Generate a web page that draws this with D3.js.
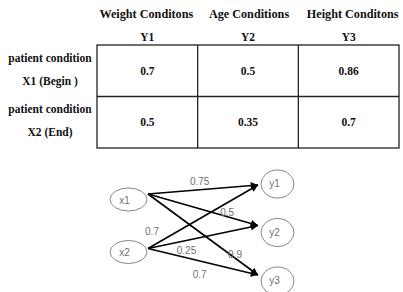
<!DOCTYPE html>
<html><head><meta charset="utf-8">
<script src="https://cdn.jsdelivr.net/npm/d3@7"></script>
<style>body{margin:0;background:#fff}svg{display:block}
.tbl text{font-family:"Liberation Serif","Times New Roman","DejaVu Serif",serif;font-weight:bold;font-size:11.5px;fill:#111}
.tbl text.ct{font-size:12.2px}
.net text{font-family:"Liberation Sans",Arial,sans-serif;font-size:10px;fill:#707070}
</style>
</head><body><svg id="c" width="403" height="292"></svg>
<script>
const colTitles = ["Weight Conditons", "Age Conditions", "Height Conditons"];
const colIds = ["Y1", "Y2", "Y3"];
const rowTitles = ["patient condition", "patient condition"];
const rowIds = ["X1 (Begin )", "X2 (End)"];
const rowX1 = ["0.7", "0.5", "0.86"];
const rowX2 = ["0.5", "0.35", "0.7"];
const inputNodes = ["x1", "x2"];
const outputNodes = ["y1", "y2", "y3"];
const edgeFrom = ["x1", "x1", "x1", "x2", "x2", "x2"];
const edgeTo = ["y1", "y2", "y3", "y1", "y2", "y3"];
const edgeWeights = ["0.75", "0.5", "0.9", "0.7", "0.25", "0.7"];

const svg = d3.select("#c");
// ---- table ----
const tx = d3.scaleBand().domain(colIds).range([97, 399]);
const ty = d3.scaleBand().domain(rowIds).range([45, 148]);
const g = svg.append("g").attr("class","tbl");
g.selectAll("text.ct").data(colTitles).join("text").attr("class","ct")
  .attr("x", (d,i)=>tx(colIds[i])+tx.bandwidth()/2 + [-1,1,4][i]).attr("y", 18).attr("text-anchor","middle").text(d=>d);
g.selectAll("text.ci").data(colIds).join("text").attr("class","ci")
  .attr("x", d=>tx(d)+tx.bandwidth()/2).attr("y", 41).attr("text-anchor","middle").text(d=>d);
g.selectAll("text.rt").data(rowTitles).join("text").attr("class","rt")
  .attr("x", 50).attr("y", (d,i)=>ty(rowIds[i])+ty.bandwidth()/2-9).attr("text-anchor","middle").text(d=>d);
g.selectAll("text.ri").data(rowIds).join("text").attr("class","ri")
  .attr("x", 50).attr("y", d=>ty(d)+ty.bandwidth()/2+14).attr("text-anchor","middle").text(d=>d);
const values = [rowX1, rowX2];
values.forEach((row, r) => {
  row.forEach((v, c) => {
    g.append("text").attr("x", tx(colIds[c])+tx.bandwidth()/2).attr("y", ty(rowIds[r])+ty.bandwidth()/2+4)
      .attr("text-anchor","middle").text(v);
  });
});
const grid = svg.append("g").attr("stroke","#222").attr("stroke-width",1.3).attr("fill","none");
grid.append("rect").attr("x",97).attr("y",45).attr("width",302).attr("height",103);
colIds.slice(1).forEach(c=>grid.append("line").attr("x1",tx(c)).attr("x2",tx(c)).attr("y1",45).attr("y2",148));
rowIds.slice(1).forEach(r=>grid.append("line").attr("x1",97).attr("x2",399).attr("y1",ty(r)).attr("y2",ty(r)));

// ---- network ----
const inY = d3.scalePoint().domain(inputNodes).range([199.5, 252]);
const outY = d3.scalePoint().domain(outputNodes).range([184, 281]);
const inX = 128.5, outX = 277.5;
const defs = svg.append("defs");
defs.append("marker").attr("id","ah").attr("viewBox","0 0 10 10").attr("refX",10).attr("refY",5)
  .attr("markerWidth",5).attr("markerHeight",4.5).attr("markerUnits","strokeWidth").attr("orient","auto")
  .append("path").attr("d","M0,0L10,5L0,10z").attr("fill","#000");
const ng = svg.append("g").attr("class","net");
const lineG = ng.append("g"), labG = ng.append("g"), nodeG = ng.append("g");
const labelT = [0.47, 0.72, 0.8, 0.1, 0.35, 0.47];
const labelOff = [[0,-5],[0,-1],[-1,-1],[-7,-7],[0,14],[0,17]];
const endAdj = [1, -7, -6];
edgeFrom.forEach((f,i)=>{
  const x1 = inX+19.5, y1 = inY(f)-5.5 + (f==="x2"?2:0);
  const x2 = outX-19.5, y2 = outY(edgeTo[i]) + endAdj[outputNodes.indexOf(edgeTo[i])];
  lineG.append("line").attr("x1",x1).attr("y1",y1).attr("x2",x2).attr("y2",y2)
    .attr("stroke","#000").attr("stroke-width",1.6).attr("marker-end","url(#ah)");
  const t = labelT[i];
  labG.append("text").attr("x", x1+(x2-x1)*t+labelOff[i][0]).attr("y", y1+(y2-y1)*t+labelOff[i][1])
    .attr("text-anchor","middle").text(edgeWeights[i]);
});
inputNodes.forEach(n=>{
  nodeG.append("ellipse").attr("cx",inX).attr("cy",inY(n)).attr("rx",18.5).attr("ry",11.5).attr("fill","#fff").attr("stroke","#777").attr("stroke-width",0.9);
  nodeG.append("text").attr("x",inX-4).attr("y",inY(n)+4).attr("text-anchor","middle").text(n);
});
outputNodes.forEach(n=>{
  nodeG.append("ellipse").attr("cx",outX).attr("cy",outY(n)).attr("rx",16.5).attr("ry",14).attr("fill","#fff").attr("stroke","#777").attr("stroke-width",0.9);
  nodeG.append("text").attr("x",outX-3).attr("y",outY(n)+3).attr("text-anchor","middle").text(n);
});
</script></body></html>
